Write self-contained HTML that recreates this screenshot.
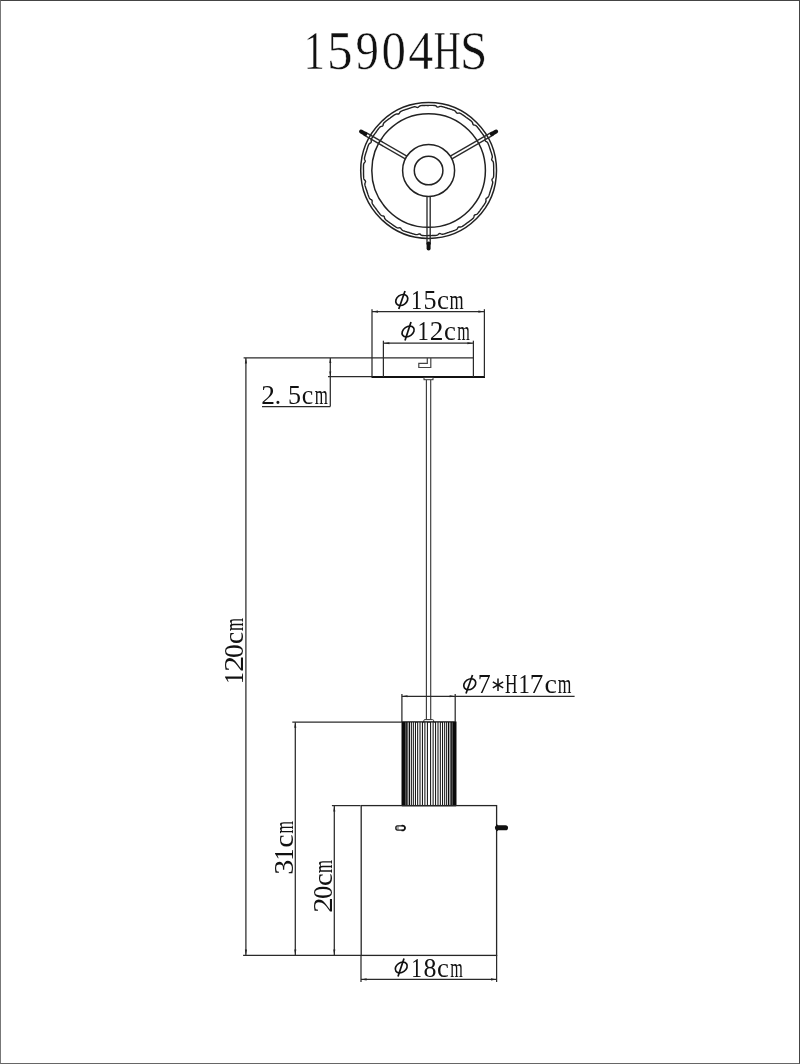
<!DOCTYPE html>
<html><head><meta charset="utf-8"><title>15904HS</title>
<style>
html,body{margin:0;padding:0;background:#fff;}
body{width:800px;height:1064px;overflow:hidden;position:relative;font-family:"Liberation Serif",serif;}
.frame{position:absolute;left:0;top:0;width:798px;height:1062px;border:1px solid;border-color:#444 #444 #666 #777;}
svg{position:absolute;left:0;top:0;opacity:0.999;will-change:transform;}
svg text{font-family:"Liberation Serif",serif;}
</style></head><body>
<div class="frame"></div>
<svg width="800" height="1064" viewBox="0 0 800 1064">
<text transform="translate(303.82 68.75) scale(0.762 1)" font-size="55.00" fill="#111" stroke="#fff" stroke-width="0.5">1</text>
<text transform="translate(327.03 68.75) scale(0.930 1)" font-size="55.00" fill="#111" stroke="#fff" stroke-width="0.5">5</text>
<text transform="translate(355.39 68.75) scale(0.852 1)" font-size="55.00" fill="#111" stroke="#fff" stroke-width="0.5">9</text>
<text transform="translate(381.44 68.75) scale(0.888 1)" font-size="55.00" fill="#111" stroke="#fff" stroke-width="0.5">0</text>
<text transform="translate(408.27 68.75) scale(0.909 1)" font-size="55.00" fill="#111" stroke="#fff" stroke-width="0.5">4</text>
<text transform="translate(433.68 68.75) scale(0.678 1)" font-size="55.00" fill="#111" stroke="#fff" stroke-width="0.5">H</text>
<text transform="translate(459.96 68.75) scale(0.894 1)" font-size="55.00" fill="#111" stroke="#fff" stroke-width="0.5">S</text>
<circle cx="428.6" cy="170.5" r="67.9" fill="none" stroke="#222" stroke-width="1.5"/>
<circle cx="428.6" cy="170.5" r="56.8" fill="none" stroke="#222" stroke-width="1.5"/>
<circle cx="428.6" cy="170.5" r="26" fill="none" stroke="#222" stroke-width="1.5"/>
<circle cx="428.6" cy="170.5" r="14.3" fill="none" stroke="#222" stroke-width="1.5"/>
<polyline points="493.67,170.50 493.69,171.07 493.71,171.64 493.72,172.21 493.72,172.77 493.72,173.34 493.72,173.91 493.71,174.48 493.69,175.05 493.67,175.62 493.63,176.19 493.56,176.75 493.41,177.31 493.14,177.85 492.74,178.38 492.29,178.88 491.98,179.41 491.95,179.97 492.14,180.56 492.43,181.18 492.65,181.79 492.73,182.39 492.69,182.96 492.59,183.52 492.47,184.07 492.32,184.63 492.18,185.18 492.03,185.73 491.87,186.27 491.71,186.82 491.54,187.36 491.37,187.91 491.19,188.45 491.01,188.99 490.83,189.53 490.64,190.06 490.49,190.61 490.33,191.15 490.17,191.70 490.00,192.24 489.83,192.79 489.66,193.33 489.47,193.87 489.29,194.41 489.10,194.94 488.90,195.48 488.69,196.01 488.45,196.52 488.14,197.01 487.71,197.44 487.16,197.81 486.58,198.16 486.13,198.56 485.93,199.08 485.92,199.71 486.01,200.39 486.03,201.03 485.92,201.62 485.71,202.16 485.44,202.66 485.14,203.15 484.84,203.63 484.53,204.11 484.22,204.58 483.90,205.05 483.58,205.52 483.25,205.99 482.92,206.45 482.58,206.91 482.25,207.37 481.90,207.82 481.56,208.27 481.24,208.75 480.93,209.22 480.60,209.69 480.28,210.15 479.95,210.62 479.61,211.08 479.27,211.54 478.93,211.99 478.58,212.44 478.23,212.89 477.87,213.33 477.48,213.74 477.03,214.11 476.49,214.39 475.86,214.57 475.20,214.72 474.64,214.96 474.29,215.40 474.09,215.99 473.96,216.66 473.78,217.29 473.50,217.81 473.13,218.25 472.72,218.65 472.29,219.02 471.85,219.39 471.41,219.74 470.96,220.10 470.51,220.45 470.06,220.80 469.61,221.14 469.15,221.48 468.69,221.81 468.23,222.14 467.76,222.47 467.29,222.79 466.85,223.14 466.40,223.49 465.95,223.84 465.50,224.18 465.04,224.52 464.58,224.86 464.11,225.19 463.65,225.51 463.18,225.83 462.70,226.15 462.22,226.46 461.72,226.73 461.19,226.94 460.59,227.04 459.93,227.02 459.25,226.95 458.65,227.01 458.18,227.32 457.81,227.82 457.48,228.42 457.11,228.96 456.68,229.37 456.19,229.68 455.68,229.93 455.16,230.15 454.63,230.36 454.10,230.56 453.56,230.76 453.03,230.96 452.49,231.15 451.95,231.33 451.41,231.51 450.87,231.69 450.33,231.86 449.79,232.03 449.24,232.19 448.71,232.39 448.17,232.58 447.64,232.77 447.10,232.96 446.56,233.14 446.02,233.31 445.48,233.48 444.93,233.65 444.39,233.81 443.84,233.97 443.28,234.11 442.72,234.21 442.15,234.25 441.55,234.16 440.93,233.93 440.31,233.66 439.71,233.53 439.17,233.68 438.66,234.04 438.17,234.51 437.65,234.91 437.11,235.16 436.56,235.31 435.99,235.39 435.42,235.43 434.86,235.47 434.29,235.50 433.72,235.53 433.15,235.55 432.58,235.56 432.01,235.57 431.44,235.58 430.87,235.58 430.30,235.57 429.74,235.56 429.17,235.55 428.60,235.57 428.03,235.59 427.46,235.61 426.89,235.62 426.33,235.62 425.76,235.62 425.19,235.62 424.62,235.61 424.05,235.59 423.48,235.57 422.91,235.53 422.35,235.46 421.79,235.31 421.25,235.04 420.72,234.64 420.22,234.19 419.69,233.88 419.13,233.85 418.54,234.04 417.92,234.33 417.31,234.55 416.71,234.63 416.14,234.59 415.58,234.49 415.03,234.37 414.47,234.22 413.92,234.08 413.37,233.93 412.83,233.77 412.28,233.61 411.74,233.44 411.19,233.27 410.65,233.09 410.11,232.91 409.57,232.73 409.04,232.54 408.49,232.39 407.95,232.23 407.40,232.07 406.86,231.90 406.31,231.73 405.77,231.56 405.23,231.37 404.69,231.19 404.16,231.00 403.62,230.80 403.09,230.59 402.58,230.35 402.09,230.04 401.66,229.61 401.29,229.06 400.94,228.48 400.54,228.03 400.02,227.83 399.39,227.82 398.71,227.91 398.07,227.93 397.48,227.82 396.94,227.61 396.44,227.34 395.95,227.04 395.47,226.74 394.99,226.43 394.52,226.12 394.05,225.80 393.58,225.48 393.11,225.15 392.65,224.82 392.19,224.48 391.73,224.15 391.28,223.80 390.83,223.46 390.35,223.14 389.88,222.83 389.41,222.50 388.95,222.18 388.48,221.85 388.02,221.51 387.56,221.17 387.11,220.83 386.66,220.48 386.21,220.13 385.77,219.77 385.36,219.38 384.99,218.93 384.71,218.39 384.53,217.76 384.38,217.10 384.14,216.54 383.70,216.19 383.11,215.99 382.44,215.86 381.81,215.68 381.29,215.40 380.85,215.03 380.45,214.62 380.08,214.19 379.71,213.75 379.36,213.31 379.00,212.86 378.65,212.41 378.30,211.96 377.96,211.51 377.62,211.05 377.29,210.59 376.96,210.13 376.63,209.66 376.31,209.19 375.96,208.75 375.61,208.30 375.26,207.85 374.92,207.40 374.58,206.94 374.24,206.48 373.91,206.01 373.59,205.55 373.27,205.08 372.95,204.60 372.64,204.12 372.37,203.62 372.16,203.09 372.06,202.49 372.08,201.83 372.15,201.15 372.09,200.55 371.78,200.08 371.28,199.71 370.68,199.38 370.14,199.01 369.73,198.58 369.42,198.09 369.17,197.58 368.95,197.06 368.74,196.53 368.54,196.00 368.34,195.46 368.14,194.93 367.95,194.39 367.77,193.85 367.59,193.31 367.41,192.77 367.24,192.23 367.07,191.69 366.91,191.14 366.71,190.61 366.52,190.07 366.33,189.54 366.14,189.00 365.96,188.46 365.79,187.92 365.62,187.38 365.45,186.83 365.29,186.29 365.13,185.74 364.99,185.18 364.89,184.62 364.85,184.05 364.94,183.45 365.17,182.83 365.44,182.21 365.57,181.61 365.42,181.07 365.06,180.56 364.59,180.07 364.19,179.55 363.94,179.01 363.79,178.46 363.71,177.89 363.67,177.32 363.63,176.76 363.60,176.19 363.57,175.62 363.55,175.05 363.54,174.48 363.53,173.91 363.52,173.34 363.52,172.77 363.53,172.20 363.54,171.64 363.55,171.07 363.53,170.50 363.51,169.93 363.49,169.36 363.48,168.79 363.48,168.23 363.48,167.66 363.48,167.09 363.49,166.52 363.51,165.95 363.53,165.38 363.57,164.81 363.64,164.25 363.79,163.69 364.06,163.15 364.46,162.62 364.91,162.12 365.22,161.59 365.25,161.03 365.06,160.44 364.77,159.82 364.55,159.21 364.47,158.61 364.51,158.04 364.61,157.48 364.73,156.93 364.88,156.37 365.02,155.82 365.17,155.27 365.33,154.73 365.49,154.18 365.66,153.64 365.83,153.09 366.01,152.55 366.19,152.01 366.37,151.47 366.56,150.94 366.71,150.39 366.87,149.85 367.03,149.30 367.20,148.76 367.37,148.21 367.54,147.67 367.73,147.13 367.91,146.59 368.10,146.06 368.30,145.52 368.51,144.99 368.75,144.48 369.06,143.99 369.49,143.56 370.04,143.19 370.62,142.84 371.07,142.44 371.27,141.92 371.28,141.29 371.19,140.61 371.17,139.97 371.28,139.38 371.49,138.84 371.76,138.34 372.06,137.85 372.36,137.37 372.67,136.89 372.98,136.42 373.30,135.95 373.62,135.48 373.95,135.01 374.28,134.55 374.62,134.09 374.95,133.63 375.30,133.18 375.64,132.73 375.96,132.25 376.27,131.78 376.60,131.31 376.92,130.85 377.25,130.38 377.59,129.92 377.93,129.46 378.27,129.01 378.62,128.56 378.97,128.11 379.33,127.67 379.72,127.26 380.17,126.89 380.71,126.61 381.34,126.43 382.00,126.28 382.56,126.04 382.91,125.60 383.11,125.01 383.24,124.34 383.42,123.71 383.70,123.19 384.07,122.75 384.48,122.35 384.91,121.98 385.35,121.61 385.79,121.26 386.24,120.90 386.69,120.55 387.14,120.20 387.59,119.86 388.05,119.52 388.51,119.19 388.97,118.86 389.44,118.53 389.91,118.21 390.35,117.86 390.80,117.51 391.25,117.16 391.70,116.82 392.16,116.48 392.62,116.14 393.09,115.81 393.55,115.49 394.02,115.17 394.50,114.85 394.98,114.54 395.48,114.27 396.01,114.06 396.61,113.96 397.27,113.98 397.95,114.05 398.55,113.99 399.02,113.68 399.39,113.18 399.72,112.58 400.09,112.04 400.52,111.63 401.01,111.32 401.52,111.07 402.04,110.85 402.57,110.64 403.10,110.44 403.64,110.24 404.17,110.04 404.71,109.85 405.25,109.67 405.79,109.49 406.33,109.31 406.87,109.14 407.41,108.97 407.96,108.81 408.49,108.61 409.03,108.42 409.56,108.23 410.10,108.04 410.64,107.86 411.18,107.69 411.72,107.52 412.27,107.35 412.81,107.19 413.36,107.03 413.92,106.89 414.48,106.79 415.05,106.75 415.65,106.84 416.27,107.07 416.89,107.34 417.49,107.47 418.03,107.32 418.54,106.96 419.03,106.49 419.55,106.09 420.09,105.84 420.64,105.69 421.21,105.61 421.78,105.57 422.34,105.53 422.91,105.50 423.48,105.47 424.05,105.45 424.62,105.44 425.19,105.43 425.76,105.42 426.33,105.42 426.90,105.43 427.46,105.44 428.03,105.45 428.60,105.43 429.17,105.41 429.74,105.39 430.31,105.38 430.87,105.38 431.44,105.38 432.01,105.38 432.58,105.39 433.15,105.41 433.72,105.43 434.29,105.47 434.85,105.54 435.41,105.69 435.95,105.96 436.48,106.36 436.98,106.81 437.51,107.12 438.07,107.15 438.66,106.96 439.28,106.67 439.89,106.45 440.49,106.37 441.06,106.41 441.62,106.51 442.17,106.63 442.73,106.78 443.28,106.92 443.83,107.07 444.37,107.23 444.92,107.39 445.46,107.56 446.01,107.73 446.55,107.91 447.09,108.09 447.63,108.27 448.16,108.46 448.71,108.61 449.25,108.77 449.80,108.93 450.34,109.10 450.89,109.27 451.43,109.44 451.97,109.63 452.51,109.81 453.04,110.00 453.58,110.20 454.11,110.41 454.62,110.65 455.11,110.96 455.54,111.39 455.91,111.94 456.26,112.52 456.66,112.97 457.18,113.17 457.81,113.18 458.49,113.09 459.13,113.07 459.72,113.18 460.26,113.39 460.76,113.66 461.25,113.96 461.73,114.26 462.21,114.57 462.68,114.88 463.15,115.20 463.62,115.52 464.09,115.85 464.55,116.18 465.01,116.52 465.47,116.85 465.92,117.20 466.37,117.54 466.85,117.86 467.32,118.17 467.79,118.50 468.25,118.82 468.72,119.15 469.18,119.49 469.64,119.83 470.09,120.17 470.54,120.52 470.99,120.87 471.43,121.23 471.84,121.62 472.21,122.07 472.49,122.61 472.67,123.24 472.82,123.90 473.06,124.46 473.50,124.81 474.09,125.01 474.76,125.14 475.39,125.32 475.91,125.60 476.35,125.97 476.75,126.38 477.12,126.81 477.49,127.25 477.84,127.69 478.20,128.14 478.55,128.59 478.90,129.04 479.24,129.49 479.58,129.95 479.91,130.41 480.24,130.87 480.57,131.34 480.89,131.81 481.24,132.25 481.59,132.70 481.94,133.15 482.28,133.60 482.62,134.06 482.96,134.52 483.29,134.99 483.61,135.45 483.93,135.92 484.25,136.40 484.56,136.88 484.83,137.38 485.04,137.91 485.14,138.51 485.12,139.17 485.05,139.85 485.11,140.45 485.42,140.92 485.92,141.29 486.52,141.62 487.06,141.99 487.47,142.42 487.78,142.91 488.03,143.42 488.25,143.94 488.46,144.47 488.66,145.00 488.86,145.54 489.06,146.07 489.25,146.61 489.43,147.15 489.61,147.69 489.79,148.23 489.96,148.77 490.13,149.31 490.29,149.86 490.49,150.39 490.68,150.93 490.87,151.46 491.06,152.00 491.24,152.54 491.41,153.08 491.58,153.62 491.75,154.17 491.91,154.71 492.07,155.26 492.21,155.82 492.31,156.38 492.35,156.95 492.26,157.55 492.03,158.17 491.76,158.79 491.63,159.39 491.78,159.93 492.14,160.44 492.61,160.93 493.01,161.45 493.26,161.99 493.41,162.54 493.49,163.11 493.53,163.68 493.57,164.24 493.60,164.81 493.63,165.38 493.65,165.95 493.66,166.52 493.67,167.09 493.68,167.66 493.68,168.23 493.67,168.80 493.66,169.36 493.65,169.93 493.67,170.50" fill="none" stroke="#222" stroke-width="1.4"/>
<line x1="430.20" y1="196.50" x2="430.20" y2="244.50" stroke="#2a2a2a" stroke-width="1.35"/>
<line x1="427.00" y1="196.50" x2="427.00" y2="244.50" stroke="#2a2a2a" stroke-width="1.35"/>
<line x1="428.60" y1="243.50" x2="428.60" y2="248.50" stroke="#111" stroke-width="4" stroke-linecap="round"/>
<line x1="405.28" y1="158.89" x2="363.71" y2="134.89" stroke="#2a2a2a" stroke-width="1.35"/>
<line x1="406.88" y1="156.11" x2="365.31" y2="132.11" stroke="#2a2a2a" stroke-width="1.35"/>
<line x1="365.38" y1="134.00" x2="361.05" y2="131.50" stroke="#111" stroke-width="4" stroke-linecap="round"/>
<line x1="450.32" y1="156.11" x2="491.89" y2="132.11" stroke="#2a2a2a" stroke-width="1.35"/>
<line x1="451.92" y1="158.89" x2="493.49" y2="134.89" stroke="#2a2a2a" stroke-width="1.35"/>
<line x1="491.82" y1="134.00" x2="496.15" y2="131.50" stroke="#111" stroke-width="4" stroke-linecap="round"/>
<line x1="243.60" y1="357.90" x2="474.00" y2="357.90" stroke="#2a2a2a" stroke-width="1.25"/>
<line x1="328.00" y1="376.60" x2="372.00" y2="376.60" stroke="#2a2a2a" stroke-width="1.25"/>
<line x1="371.50" y1="377.00" x2="485.00" y2="377.00" stroke="#111" stroke-width="2.2"/>
<line x1="383.40" y1="340.70" x2="383.40" y2="377.00" stroke="#2a2a2a" stroke-width="1.25"/>
<line x1="473.40" y1="340.70" x2="473.40" y2="377.00" stroke="#2a2a2a" stroke-width="1.25"/>
<line x1="372.00" y1="309.20" x2="372.00" y2="377.00" stroke="#2a2a2a" stroke-width="1.25"/>
<line x1="484.40" y1="309.20" x2="484.40" y2="377.00" stroke="#2a2a2a" stroke-width="1.25"/>
<line x1="372.00" y1="311.60" x2="484.40" y2="311.60" stroke="#2a2a2a" stroke-width="1.25"/>
<polygon points="372.40,311.60 378.00,310.55 378.00,312.65" fill="#222"/>
<polygon points="484.00,311.60 478.40,312.65 478.40,310.55" fill="#222"/>
<line x1="383.40" y1="343.20" x2="473.40" y2="343.20" stroke="#2a2a2a" stroke-width="1.25"/>
<polygon points="383.80,343.20 389.40,342.15 389.40,344.25" fill="#222"/>
<polygon points="473.00,343.20 467.40,344.25 467.40,342.15" fill="#222"/>
<path d="M427.3 358 V363.3 H418.8 V367.5 H430.8 V358" fill="none" stroke="#444" stroke-width="1.2"/>
<rect x="424" y="377.5" width="9" height="2.2" fill="#fff" stroke="#333" stroke-width="1"/>
<line x1="426.40" y1="380.00" x2="426.40" y2="720.00" stroke="#3a3a3a" stroke-width="1.15"/>
<line x1="430.70" y1="380.00" x2="430.70" y2="720.00" stroke="#3a3a3a" stroke-width="1.15"/>
<path d="M423.8 722 V720.6 Q423.8 719.6 425 719.6 H432.4 Q433.6 719.6 433.6 720.6 V722" fill="#fff" stroke="#333" stroke-width="1"/>
<rect x="402" y="722" width="54" height="83.60000000000002" fill="#fff" stroke="#111" stroke-width="1"/>
<rect x="402" y="722" width="1" height="83.60000000000002" fill="rgb(10,10,10)" shape-rendering="crispEdges"/>
<rect x="403" y="722" width="1" height="83.60000000000002" fill="rgb(10,10,10)" shape-rendering="crispEdges"/>
<rect x="404" y="722" width="1" height="83.60000000000002" fill="rgb(10,10,10)" shape-rendering="crispEdges"/>
<rect x="405" y="722" width="1" height="83.60000000000002" fill="rgb(78,78,78)" shape-rendering="crispEdges"/>
<rect x="406" y="722" width="1" height="83.60000000000002" fill="rgb(39,39,39)" shape-rendering="crispEdges"/>
<rect x="407" y="722" width="1" height="83.60000000000002" fill="rgb(97,97,97)" shape-rendering="crispEdges"/>
<rect x="408" y="722" width="1" height="83.60000000000002" fill="rgb(168,168,168)" shape-rendering="crispEdges"/>
<rect x="409" y="722" width="1" height="83.60000000000002" fill="rgb(13,13,13)" shape-rendering="crispEdges"/>
<rect x="410" y="722" width="1" height="83.60000000000002" fill="rgb(213,213,213)" shape-rendering="crispEdges"/>
<rect x="411" y="722" width="1" height="83.60000000000002" fill="rgb(49,49,49)" shape-rendering="crispEdges"/>
<rect x="412" y="722" width="1" height="83.60000000000002" fill="rgb(211,211,211)" shape-rendering="crispEdges"/>
<rect x="413" y="722" width="1" height="83.60000000000002" fill="rgb(54,54,54)" shape-rendering="crispEdges"/>
<rect x="414" y="722" width="1" height="83.60000000000002" fill="rgb(240,240,240)" shape-rendering="crispEdges"/>
<rect x="415" y="722" width="1" height="83.60000000000002" fill="rgb(25,25,25)" shape-rendering="crispEdges"/>
<rect x="417" y="722" width="1" height="83.60000000000002" fill="rgb(53,53,53)" shape-rendering="crispEdges"/>
<rect x="418" y="722" width="1" height="83.60000000000002" fill="rgb(212,212,212)" shape-rendering="crispEdges"/>
<rect x="419" y="722" width="1" height="83.60000000000002" fill="rgb(135,135,135)" shape-rendering="crispEdges"/>
<rect x="420" y="722" width="1" height="83.60000000000002" fill="rgb(130,130,130)" shape-rendering="crispEdges"/>
<rect x="421" y="722" width="1" height="83.60000000000002" fill="rgb(236,236,236)" shape-rendering="crispEdges"/>
<rect x="422" y="722" width="1" height="83.60000000000002" fill="rgb(29,29,29)" shape-rendering="crispEdges"/>
<rect x="424" y="722" width="1" height="83.60000000000002" fill="rgb(106,106,106)" shape-rendering="crispEdges"/>
<rect x="425" y="722" width="1" height="83.60000000000002" fill="rgb(159,159,159)" shape-rendering="crispEdges"/>
<rect x="426" y="722" width="1" height="83.60000000000002" fill="rgb(230,230,230)" shape-rendering="crispEdges"/>
<rect x="427" y="722" width="1" height="83.60000000000002" fill="rgb(35,35,35)" shape-rendering="crispEdges"/>
<rect x="430" y="722" width="1" height="83.60000000000002" fill="rgb(35,35,35)" shape-rendering="crispEdges"/>
<rect x="431" y="722" width="1" height="83.60000000000002" fill="rgb(230,230,230)" shape-rendering="crispEdges"/>
<rect x="432" y="722" width="1" height="83.60000000000002" fill="rgb(159,159,159)" shape-rendering="crispEdges"/>
<rect x="433" y="722" width="1" height="83.60000000000002" fill="rgb(106,106,106)" shape-rendering="crispEdges"/>
<rect x="435" y="722" width="1" height="83.60000000000002" fill="rgb(29,29,29)" shape-rendering="crispEdges"/>
<rect x="436" y="722" width="1" height="83.60000000000002" fill="rgb(236,236,236)" shape-rendering="crispEdges"/>
<rect x="437" y="722" width="1" height="83.60000000000002" fill="rgb(130,130,130)" shape-rendering="crispEdges"/>
<rect x="438" y="722" width="1" height="83.60000000000002" fill="rgb(135,135,135)" shape-rendering="crispEdges"/>
<rect x="439" y="722" width="1" height="83.60000000000002" fill="rgb(212,212,212)" shape-rendering="crispEdges"/>
<rect x="440" y="722" width="1" height="83.60000000000002" fill="rgb(53,53,53)" shape-rendering="crispEdges"/>
<rect x="442" y="722" width="1" height="83.60000000000002" fill="rgb(25,25,25)" shape-rendering="crispEdges"/>
<rect x="443" y="722" width="1" height="83.60000000000002" fill="rgb(240,240,240)" shape-rendering="crispEdges"/>
<rect x="444" y="722" width="1" height="83.60000000000002" fill="rgb(54,54,54)" shape-rendering="crispEdges"/>
<rect x="445" y="722" width="1" height="83.60000000000002" fill="rgb(211,211,211)" shape-rendering="crispEdges"/>
<rect x="446" y="722" width="1" height="83.60000000000002" fill="rgb(49,49,49)" shape-rendering="crispEdges"/>
<rect x="447" y="722" width="1" height="83.60000000000002" fill="rgb(213,213,213)" shape-rendering="crispEdges"/>
<rect x="448" y="722" width="1" height="83.60000000000002" fill="rgb(13,13,13)" shape-rendering="crispEdges"/>
<rect x="449" y="722" width="1" height="83.60000000000002" fill="rgb(168,168,168)" shape-rendering="crispEdges"/>
<rect x="450" y="722" width="1" height="83.60000000000002" fill="rgb(97,97,97)" shape-rendering="crispEdges"/>
<rect x="451" y="722" width="1" height="83.60000000000002" fill="rgb(39,39,39)" shape-rendering="crispEdges"/>
<rect x="452" y="722" width="1" height="83.60000000000002" fill="rgb(78,78,78)" shape-rendering="crispEdges"/>
<rect x="453" y="722" width="1" height="83.60000000000002" fill="rgb(10,10,10)" shape-rendering="crispEdges"/>
<rect x="454" y="722" width="1" height="83.60000000000002" fill="rgb(10,10,10)" shape-rendering="crispEdges"/>
<rect x="455" y="722" width="1" height="83.60000000000002" fill="rgb(10,10,10)" shape-rendering="crispEdges"/>
<line x1="402.00" y1="722.00" x2="456.00" y2="722.00" stroke="#111" stroke-width="1.2"/>
<line x1="402.00" y1="805.60" x2="456.00" y2="805.60" stroke="#111" stroke-width="1.25"/>
<line x1="401.90" y1="694.00" x2="401.90" y2="722.00" stroke="#2a2a2a" stroke-width="1.25"/>
<line x1="455.20" y1="694.00" x2="455.20" y2="722.00" stroke="#2a2a2a" stroke-width="1.25"/>
<line x1="401.90" y1="696.30" x2="574.60" y2="696.30" stroke="#2a2a2a" stroke-width="1.25"/>
<polygon points="401.90,696.30 407.50,695.25 407.50,697.35" fill="#222"/>
<polygon points="455.20,696.30 449.60,697.35 449.60,695.25" fill="#222"/>
<rect x="361.2" y="805.6" width="135.4" height="149.8" fill="none" stroke="#262626" stroke-width="1.3"/>
<line x1="243.10" y1="955.40" x2="361.00" y2="955.40" stroke="#2a2a2a" stroke-width="1.25"/>
<rect x="396.3" y="826.3" width="2.6" height="3.4" fill="#aaa"/>
<path d="M402.3 825.9 H397.4 Q395.8 825.9 395.8 828 Q395.8 830.1 397.4 830.1 H402.3" fill="none" stroke="#1a1a1a" stroke-width="1.3"/>
<path d="M401.6 825.9 A2.35 2.35 0 1 1 401.6 830.1" fill="none" stroke="#111" stroke-width="1.9"/>
<path d="M496.2 824 Q498 824.6 498 825.6 V830 Q498 831 496.2 831.6 Z" fill="#111"/>
<line x1="497.5" y1="827.75" x2="505.5" y2="827.75" stroke="#111" stroke-width="5.1" stroke-linecap="round"/>
<line x1="245.90" y1="358.00" x2="245.90" y2="955.00" stroke="#2a2a2a" stroke-width="1.25"/>
<polygon points="245.90,358.00 246.95,363.60 244.85,363.60" fill="#222"/>
<polygon points="245.90,955.00 244.85,949.40 246.95,949.40" fill="#222"/>
<line x1="295.30" y1="722.20" x2="295.30" y2="955.00" stroke="#2a2a2a" stroke-width="1.25"/>
<polygon points="295.30,722.20 296.35,727.80 294.25,727.80" fill="#222"/>
<polygon points="295.30,955.00 294.25,949.40 296.35,949.40" fill="#222"/>
<line x1="292.30" y1="722.20" x2="402.00" y2="722.20" stroke="#2a2a2a" stroke-width="1.25"/>
<line x1="334.30" y1="806.00" x2="334.30" y2="955.00" stroke="#2a2a2a" stroke-width="1.25"/>
<polygon points="334.30,806.00 335.35,811.60 333.25,811.60" fill="#222"/>
<polygon points="334.30,955.00 333.25,949.40 335.35,949.40" fill="#222"/>
<line x1="331.90" y1="805.60" x2="360.50" y2="805.60" stroke="#2a2a2a" stroke-width="1.25"/>
<line x1="330.30" y1="358.00" x2="330.30" y2="406.50" stroke="#2a2a2a" stroke-width="1.25"/>
<polygon points="330.30,358.00 331.30,363.00 329.30,363.00" fill="#222"/>
<polygon points="330.30,376.60 329.30,371.60 331.30,371.60" fill="#222"/>
<line x1="262.00" y1="406.50" x2="330.30" y2="406.50" stroke="#2a2a2a" stroke-width="1.25"/>
<line x1="361.00" y1="955.00" x2="361.00" y2="982.00" stroke="#2a2a2a" stroke-width="1.25"/>
<line x1="496.60" y1="955.00" x2="496.60" y2="982.00" stroke="#2a2a2a" stroke-width="1.25"/>
<line x1="361.00" y1="979.40" x2="496.60" y2="979.40" stroke="#2a2a2a" stroke-width="1.25"/>
<polygon points="361.00,979.40 366.60,978.35 366.60,980.45" fill="#222"/>
<polygon points="496.60,979.40 491.00,980.45 491.00,978.35" fill="#222"/>
<ellipse cx="401.75" cy="300.00" rx="6.45" ry="5.00" fill="none" stroke="#111" stroke-width="1.7" transform="rotate(-35 401.75 300.00)"/>
<line x1="398.75" y1="309.00" x2="405.00" y2="291.00" stroke="#111" stroke-width="1.7"/>
<text transform="translate(410.94 308.75) scale(0.826 1)" font-size="27.00" fill="#111">1</text>
<text transform="translate(423.39 308.75) scale(0.965 1)" font-size="27.00" fill="#111">5</text>
<text transform="translate(436.97 308.75) scale(0.998 1)" font-size="27.00" fill="#111">c</text>
<text transform="translate(449.62 308.75) scale(0.675 1)" font-size="27.00" fill="#111">m</text>
<ellipse cx="408.10" cy="331.50" rx="6.61" ry="4.78" fill="none" stroke="#111" stroke-width="1.7" transform="rotate(-35 408.10 331.50)"/>
<line x1="405.00" y1="340.50" x2="411.00" y2="322.00" stroke="#111" stroke-width="1.7"/>
<text transform="translate(417.50 340.20) scale(0.842 1)" font-size="27.00" fill="#111">1</text>
<text transform="translate(429.79 340.20) scale(1.016 1)" font-size="27.00" fill="#111">2</text>
<text transform="translate(443.98 340.20) scale(0.988 1)" font-size="27.00" fill="#111">c</text>
<text transform="translate(457.16 340.20) scale(0.600 1)" font-size="27.00" fill="#111">m</text>
<text transform="translate(261.29 403.60) scale(1.016 1)" font-size="27.00" fill="#111">2</text>
<text transform="translate(274.83 403.60) scale(0.940 1)" font-size="27.00" fill="#111">.</text>
<text transform="translate(287.99 403.60) scale(0.965 1)" font-size="27.00" fill="#111">5</text>
<text transform="translate(301.81 403.60) scale(0.958 1)" font-size="27.00" fill="#111">c</text>
<text transform="translate(314.65 403.60) scale(0.625 1)" font-size="27.00" fill="#111">m</text>
<ellipse cx="469.75" cy="684.25" rx="6.45" ry="5.00" fill="none" stroke="#111" stroke-width="1.7" transform="rotate(-35 469.75 684.25)"/>
<line x1="466.00" y1="693.50" x2="472.50" y2="675.00" stroke="#111" stroke-width="1.7"/>
<text transform="translate(477.79 693.00) scale(0.960 1)" font-size="27.00" fill="#111">7</text>
<text transform="translate(505.00 693.00) scale(0.641 1)" font-size="27.00" fill="#111">H</text>
<text transform="translate(518.50 693.00) scale(0.842 1)" font-size="27.00" fill="#111">1</text>
<text transform="translate(529.71 693.00) scale(1.005 1)" font-size="27.00" fill="#111">7</text>
<text transform="translate(544.43 693.00) scale(1.037 1)" font-size="27.00" fill="#111">c</text>
<text transform="translate(557.63 693.00) scale(0.650 1)" font-size="27.00" fill="#111">m</text>
<line x1="498.00" y1="678.50" x2="498.00" y2="691.10" stroke="#111" stroke-width="1.5"/>
<line x1="492.80" y1="681.80" x2="503.20" y2="687.80" stroke="#111" stroke-width="1.5"/>
<line x1="503.20" y1="681.80" x2="492.80" y2="687.80" stroke="#111" stroke-width="1.5"/>
<ellipse cx="401.25" cy="967.50" rx="6.45" ry="4.78" fill="none" stroke="#111" stroke-width="1.7" transform="rotate(-35 401.25 967.50)"/>
<line x1="398.00" y1="976.50" x2="404.00" y2="958.50" stroke="#111" stroke-width="1.7"/>
<text transform="translate(411.13 976.50) scale(0.789 1)" font-size="27.00" fill="#111">1</text>
<text transform="translate(423.51 976.50) scale(0.961 1)" font-size="27.00" fill="#111">8</text>
<text transform="translate(436.98 976.50) scale(0.988 1)" font-size="27.00" fill="#111">c</text>
<text transform="translate(450.16 976.50) scale(0.600 1)" font-size="27.00" fill="#111">m</text>
<text transform="translate(243.00 684.02) rotate(-90) scale(0.894 1)" font-size="27.00" fill="#111">1</text>
<text transform="translate(243.00 672.03) rotate(-90) scale(1.201 1)" font-size="27.00" fill="#111">2</text>
<text transform="translate(243.00 658.06) rotate(-90) scale(1.031 1)" font-size="27.00" fill="#111">0</text>
<text transform="translate(243.00 644.04) rotate(-90) scale(1.007 1)" font-size="27.00" fill="#111">c</text>
<text transform="translate(243.00 630.95) rotate(-90) scale(0.620 1)" font-size="27.00" fill="#111">m</text>
<text transform="translate(292.70 874.64) rotate(-90) scale(1.116 1)" font-size="27.00" fill="#111">3</text>
<text transform="translate(292.70 860.62) rotate(-90) scale(0.894 1)" font-size="27.00" fill="#111">1</text>
<text transform="translate(292.70 847.85) rotate(-90) scale(1.116 1)" font-size="27.00" fill="#111">c</text>
<text transform="translate(292.70 833.43) rotate(-90) scale(0.590 1)" font-size="27.00" fill="#111">m</text>
<text transform="translate(331.60 912.86) rotate(-90) scale(1.146 1)" font-size="27.00" fill="#111">2</text>
<text transform="translate(331.60 899.02) rotate(-90) scale(0.987 1)" font-size="27.00" fill="#111">0</text>
<text transform="translate(331.60 886.09) rotate(-90) scale(1.057 1)" font-size="27.00" fill="#111">c</text>
<text transform="translate(331.60 872.95) rotate(-90) scale(0.620 1)" font-size="27.00" fill="#111">m</text>
</svg>
</body></html>
